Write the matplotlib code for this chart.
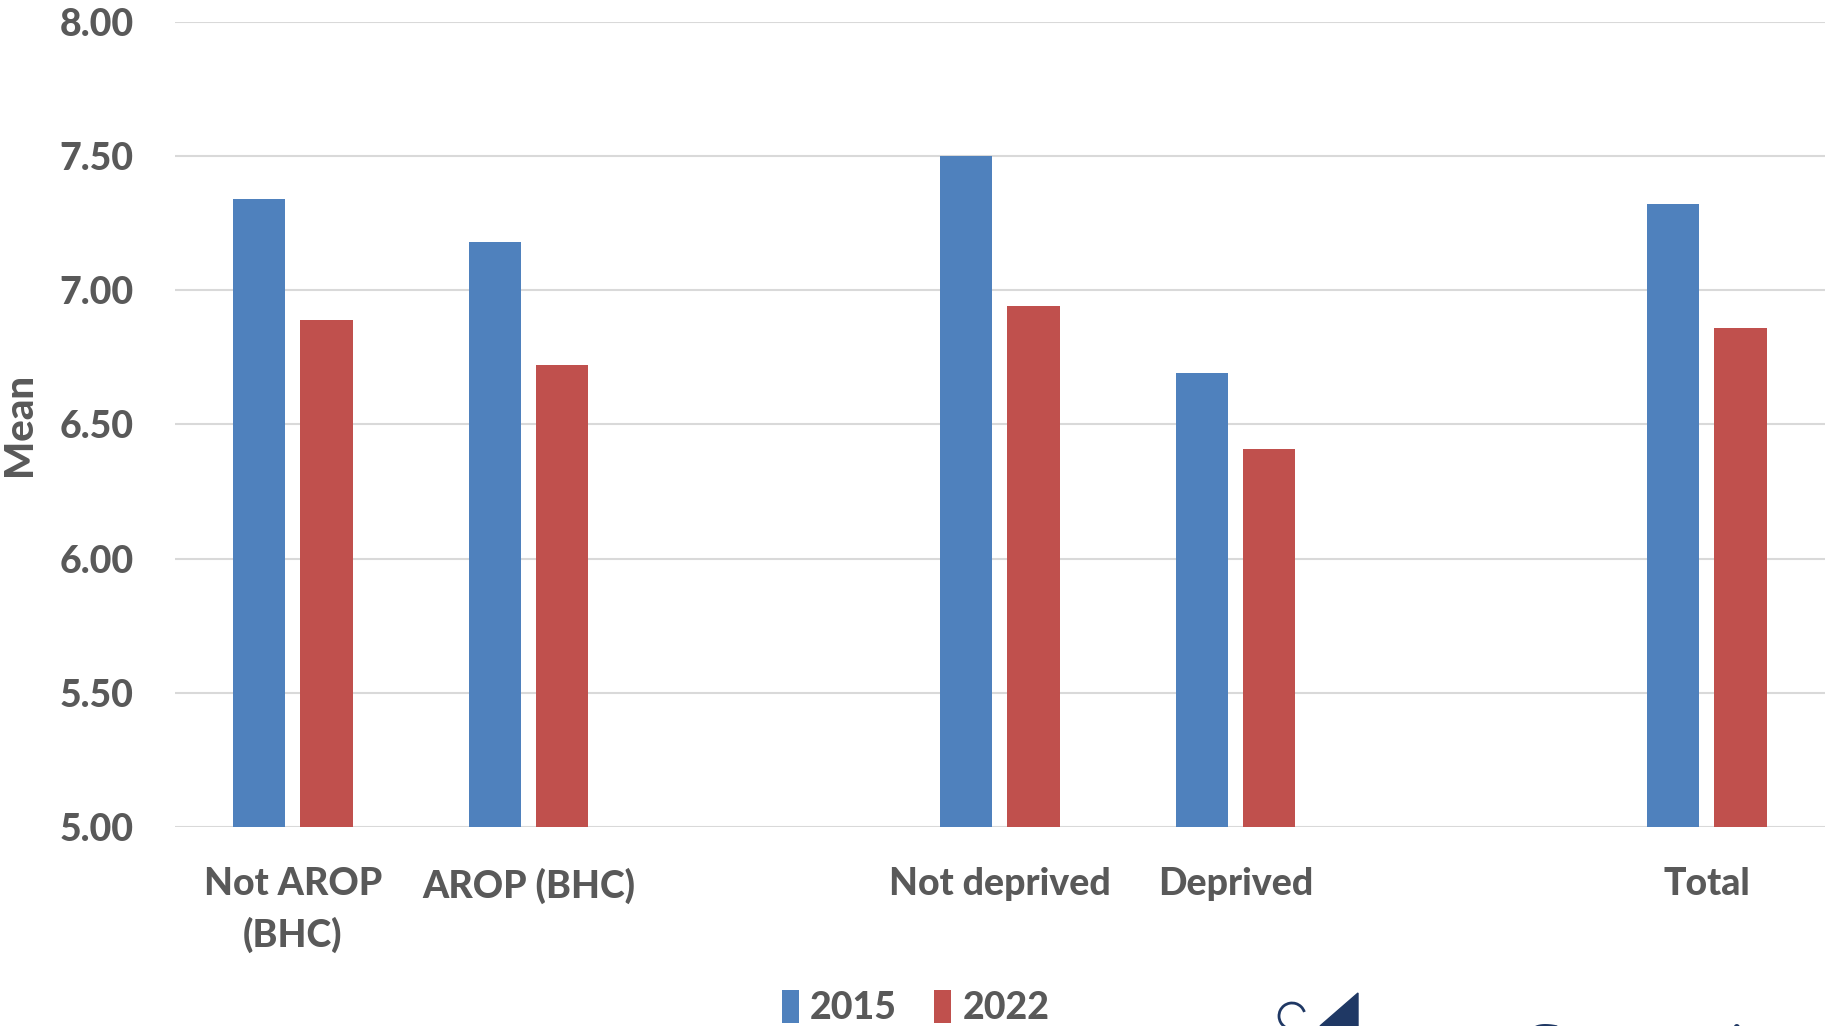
import matplotlib
matplotlib.use("Agg")
import matplotlib.pyplot as plt
import numpy as np
from matplotlib.patches import Polygon, Arc

# categories (blank slots are empty gaps in the original chart)
categories = ["Not AROP\n(BHC)", "AROP (BHC)", "", "Not deprived", "Deprived", "", "Total"]
mean_2015 = [7.34, 7.18, np.nan, 7.50, 6.69, np.nan, 7.32]
mean_2022 = [6.89, 6.72, np.nan, 6.94, 6.41, np.nan, 6.86]
yticks = [5.0, 5.5, 6.0, 6.5, 7.0, 7.5, 8.0]

BLUE = "#4f81bd"
RED = "#c0504d"
GREY = "#595959"
NAVY = "#1f3864"

plt.rcParams["font.family"] = ["Lato", "DejaVu Sans"]
plt.rcParams["font.weight"] = "black"

fig = plt.figure(figsize=(18.31, 10.26), dpi=100, facecolor="white")
ax = fig.add_axes([0.0956, 0.194, 0.901, 0.7846])

x = np.arange(len(categories))
w = 0.222
ax.bar(x - 0.143, mean_2015, width=w, color=BLUE, label="2015", zorder=3)
ax.bar(x + 0.143, mean_2022, width=w, color=RED, label="2022", zorder=3)

ax.set_xlim(-0.5, len(categories) - 0.5)
ax.set_ylim(5.0, 8.0)
ax.set_yticks(yticks)
ax.set_yticklabels(["%.2f" % v for v in yticks])
ax.set_xticks(x)
ax.set_xticklabels(categories, linespacing=1.5)
ax.grid(axis="y", color="#d9d9d9", linewidth=1.5, zorder=0)
ax.set_axisbelow(True)
for s in ["top", "right", "left", "bottom"]:
    ax.spines[s].set_visible(False)
ax.tick_params(axis="both", length=0, labelsize=27, labelcolor=GREY, pad=30)
ax.tick_params(axis="x", pad=29)
ax.set_ylabel("Mean", fontsize=29, color=GREY, fontweight="black")
ax.yaxis.set_label_coords(-0.083, 0.5)

fig.legend(loc="center", bbox_to_anchor=(0.5, 0.018), ncol=2, frameon=False,
           handlelength=0.45, handleheight=1.0, handletextpad=0.3,
           columnspacing=1.0, borderpad=0, fontsize=27, labelcolor=GREY)

# partial logo cut off at the bottom edge
fig.patches.append(Polygon([[1320 / 1831, 0], [1358 / 1831, 33 / 1026], [1358 / 1831, 0]],
                           closed=True, transform=fig.transFigure, color=NAVY))
fig.patches.append(Arc((1292 / 1831, 10 / 1026), 26 / 1831, 26 / 1026, theta1=30, theta2=250,
                       transform=fig.transFigure, color=NAVY, linewidth=2))
fig.text(1524 / 1831, -0.035, "Community", fontsize=40, color=NAVY,
         family="Liberation Serif", fontweight="normal", va="baseline")

fig.savefig("out.png", dpi=100, facecolor="white")
